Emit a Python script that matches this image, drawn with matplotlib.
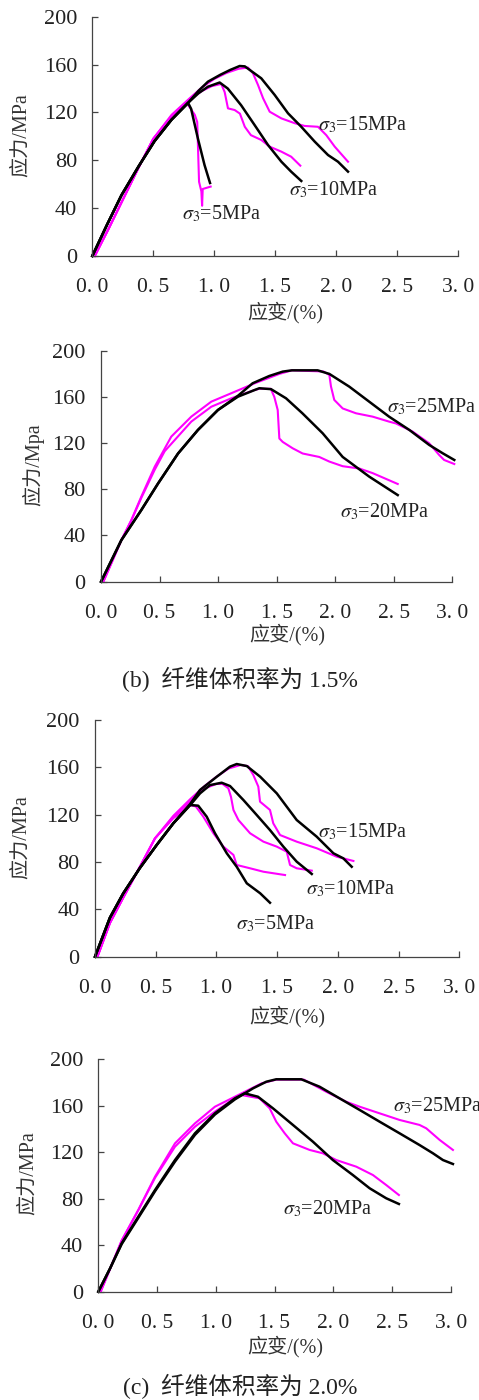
import matplotlib
matplotlib.use("Agg")
import matplotlib.pyplot as plt

plt.rcParams['font.family'] = ['Liberation Serif', 'Noto Sans CJK SC', 'DejaVu Sans']
plt.rcParams['mathtext.fontset'] = 'stix'

# ---------------- data ----------------
x_ticks = [0.0, 0.5, 1.0, 1.5, 2.0, 2.5, 3.0]
x_tick_labels = ["0. 0", "0. 5", "1. 0", "1. 5", "2. 0", "2. 5", "3. 0"]
y_ticks = [0, 40, 80, 120, 160, 200]

# panel 1
p1_k5_x = [0, 0.12, 0.24, 0.38, 0.51, 0.65, 0.785, 0.81, 0.866, 0.92, 0.965]
p1_k5_y = [0, 26, 51, 75, 96, 114, 128, 123, 98, 76, 61]
p1_m5_x = [0.02, 0.13, 0.25, 0.38, 0.5, 0.65, 0.78, 0.84, 0.86, 0.875, 0.894, 0.9, 0.905, 0.97]
p1_m5_y = [0, 22, 47, 74, 98, 117, 127, 118, 112, 62, 54, 42, 56, 58]
p1_k10_x = [0, 0.12, 0.24, 0.38, 0.51, 0.65, 0.785, 0.87, 0.948, 1.044, 1.11, 1.22, 1.33, 1.44, 1.55, 1.63, 1.713]
p1_k10_y = [0, 26, 51, 75, 96, 114, 128, 136, 141.5, 145, 140, 126, 109.5, 92.8, 78.8, 70.5, 62.7]
p1_m10_x = [0.02, 0.13, 0.25, 0.38, 0.5, 0.65, 0.8, 0.9, 0.98, 1.057, 1.085, 1.112, 1.167, 1.21, 1.25, 1.30, 1.385, 1.454, 1.55, 1.63, 1.705]
p1_m10_y = [0, 22, 47, 74, 98, 117, 131, 138, 142, 143.8, 137, 123.4, 122, 119, 108, 101, 97, 91.4, 87.2, 83, 75.5]
p1_k15_x = [0, 0.12, 0.24, 0.38, 0.51, 0.65, 0.785, 0.87, 0.948, 1.05, 1.13, 1.208, 1.25, 1.385, 1.495, 1.604, 1.713, 1.823, 1.932, 2.014, 2.096]
p1_k15_y = [0, 26, 51, 75, 96, 114, 128, 138, 145.7, 151.5, 155.5, 158.8, 158.5, 148.5, 134.6, 119.3, 108, 95.6, 84.4, 78.8, 70.5]
p1_m15_x = [0.02, 0.13, 0.25, 0.38, 0.5, 0.65, 0.8, 0.9, 1.0, 1.1, 1.2, 1.276, 1.317, 1.358, 1.4, 1.454, 1.55, 1.659, 1.74, 1.85, 1.918, 1.987, 2.096]
p1_m15_y = [0, 22, 47, 74, 98, 118, 132, 141, 148, 153, 156.5, 157.5, 152.7, 143, 131.8, 120.6, 115, 111, 108.7, 108, 101, 91.4, 78.8]

# panel 2 (fiber 1.5%)
p2_k20_x = [0, 0.174, 0.344, 0.487, 0.658, 0.828, 0.999, 1.17, 1.313, 1.352, 1.452, 1.58, 1.72, 1.893, 2.064, 2.29, 2.534]
p2_k20_y = [0, 36, 62, 85, 111, 131.4, 148.7, 160.2, 166, 167.5, 166.7, 158.8, 145.8, 128.5, 108, 91, 75]
p2_k25_x = [0, 0.174, 0.344, 0.487, 0.658, 0.828, 0.999, 1.17, 1.295, 1.437, 1.552, 1.63, 1.85, 1.95, 2.12, 2.29, 2.46, 2.633, 2.803, 2.918, 3.017]
p2_k25_y = [0, 36, 62, 85, 111, 131.4, 148.7, 161, 171.8, 178.1, 181.9, 183, 183, 179.9, 168.9, 155.9, 142.9, 131.4, 118.4, 111.2, 105.4]
p2_m20_x = [0.02, 0.174, 0.259, 0.344, 0.459, 0.544, 0.771, 0.942, 1.113, 1.313, 1.35, 1.45, 1.48, 1.509, 1.523, 1.552, 1.637, 1.722, 1.864, 1.95, 2.064, 2.206, 2.32, 2.534]
p2_m20_y = [0, 36, 53, 72.5, 97, 113, 138.6, 151.5, 158.8, 166, 167, 167, 160, 148.7, 124, 121, 115.5, 111, 108, 104, 100, 98, 94, 84.6]
p2_m25_x = [0.02, 0.174, 0.259, 0.344, 0.459, 0.6, 0.771, 0.942, 1.113, 1.313, 1.523, 1.63, 1.9, 1.95, 1.964, 1.992, 2.064, 2.178, 2.32, 2.46, 2.519, 2.662, 2.803, 2.888, 2.93, 3.017]
p2_m25_y = [0, 36, 53.4, 73.6, 99.6, 125.6, 142.9, 155.9, 163.2, 171.8, 179.9, 183, 182, 179, 169, 157.4, 150, 145.8, 142.9, 138.6, 137, 129.9, 119.8, 109.7, 105.4, 101.9]

# panel 3
p3_k5_x = [0, 0.123, 0.233, 0.37, 0.508, 0.645, 0.783, 0.85, 0.92, 0.988, 1.085, 1.167, 1.25, 1.36, 1.441]
p3_k5_y = [0, 33, 53.6, 75, 94.4, 112.7, 128.2, 127.6, 118.3, 104.3, 87.4, 76, 62, 53.6, 45.6]
p3_m5_x = [0.02, 0.123, 0.233, 0.37, 0.494, 0.645, 0.783, 0.83, 0.892, 0.975, 1.057, 1.14, 1.167, 1.277, 1.387, 1.565]
p3_m5_y = [0, 28.5, 50, 76, 100, 117, 128, 127, 118.3, 104.3, 93, 86, 77.5, 74.7, 71.8, 69]
p3_k10_x = [0, 0.123, 0.233, 0.37, 0.508, 0.645, 0.783, 0.865, 0.947, 1.043, 1.112, 1.222, 1.332, 1.441, 1.551, 1.661, 1.785]
p3_k10_y = [0, 33, 53.6, 75, 94.4, 112.7, 128, 138, 145, 147, 144.2, 132.4, 119.7, 107, 93, 80.3, 69.9]
p3_m10_x = [0.02, 0.123, 0.233, 0.37, 0.494, 0.645, 0.783, 0.9, 1.0, 1.05, 1.098, 1.12, 1.14, 1.181, 1.277, 1.387, 1.497, 1.579, 1.606, 1.661, 1.785]
p3_m10_y = [0, 28.5, 50, 76, 100, 118, 131, 142, 146, 146, 142.3, 135, 124, 115.5, 104.3, 97.2, 93, 88.7, 77.5, 74.7, 72.7]
p3_k15_x = [0, 0.123, 0.233, 0.37, 0.508, 0.645, 0.783, 0.865, 1.002, 1.112, 1.167, 1.25, 1.36, 1.497, 1.661, 1.826, 1.963, 2.045, 2.114]
p3_k15_y = [0, 33, 53.6, 75, 94.4, 112.7, 129, 140.9, 152, 160.6, 162.8, 161.1, 152.1, 138, 115.5, 101.4, 87.4, 83.1, 76]
p3_m15_x = [0.02, 0.123, 0.233, 0.37, 0.494, 0.645, 0.783, 0.9, 1.0, 1.1, 1.2, 1.26, 1.304, 1.345, 1.359, 1.441, 1.468, 1.524, 1.661, 1.826, 1.99, 2.128]
p3_m15_y = [0, 28.5, 50, 76, 100, 119, 133, 144, 152, 159, 162, 161, 153.5, 143.7, 131, 124, 112.7, 102.8, 97.2, 91.6, 84.5, 80.9]

# panel 4 (fiber 2.0%)
p4_k20_x = [0, 0.1, 0.199, 0.34, 0.483, 0.653, 0.823, 0.993, 1.163, 1.246, 1.359, 1.487, 1.657, 1.827, 1.997, 2.167, 2.31, 2.451, 2.559]
p4_k20_y = [0, 20, 41.6, 64.5, 87.5, 113.3, 136.3, 153.5, 166.4, 170.7, 167.8, 157.8, 143.5, 129.1, 113.3, 100.4, 89, 80.4, 75.5]
p4_k25_x = [0, 0.1, 0.199, 0.34, 0.483, 0.653, 0.823, 0.993, 1.163, 1.317, 1.43, 1.515, 1.728, 1.884, 2.054, 2.225, 2.395, 2.565, 2.735, 2.849, 2.934, 3.019]
p4_k25_y = [0, 20, 41, 63.5, 86.5, 112, 135, 152.5, 165.5, 175, 180.7, 182.8, 182.8, 176.4, 166.4, 156.4, 146.3, 136.3, 126.2, 119.1, 113.3, 109.9]
p4_m20_x = [0.02, 0.199, 0.34, 0.483, 0.653, 0.823, 0.993, 1.163, 1.217, 1.373, 1.459, 1.515, 1.587, 1.657, 1.799, 1.912, 2.026, 2.196, 2.338, 2.451, 2.559]
p4_m20_y = [0, 44, 70, 98, 124.8, 142, 155, 166.4, 169.3, 166.4, 157.8, 146.3, 136.3, 127.7, 122, 119.1, 113.3, 107.6, 100.4, 91.8, 83.2]
p4_m25_x = [0.02, 0.199, 0.34, 0.483, 0.653, 0.823, 0.993, 1.163, 1.39, 1.515, 1.75, 1.94, 2.11, 2.225, 2.395, 2.565, 2.735, 2.792, 2.906, 3.019]
p4_m25_y = [0, 44, 70.3, 99, 127.7, 144.9, 159.2, 167.8, 179.3, 182.5, 182.5, 172.1, 163.5, 159.2, 153.5, 147.8, 143.5, 140.6, 130.6, 122]

ylabel_texts = ["应力/MPa", "应力/Mpa", "应力/MPa", "应力/MPa"]
xlabel_text = "应变/(%)"
captions = ["(b)  纤维体积率为 1.5%", "(c)  纤维体积率为 2.0%"]

# ---------------- figure ----------------
W, H = 479, 1400
fig = plt.figure(figsize=(W / 100, H / 100), dpi=100)

def rect(l, r, t, b):
    return [l / W, 1 - b / H, (r - l) / W, (b - t) / H]

axes_px = [(92.3, 458.3, 16.7, 256.0),
           (101.0, 452.3, 350.7, 581.7),
           (95.0, 459.3, 720.0, 956.7),
           (98.3, 450.7, 1059.3, 1291.7)]

BLACK = "#000000"
MAG = "#ff00ff"
TXT = "#222222"

panels = [
    [(p1_m5_x, p1_m5_y, MAG), (p1_m10_x, p1_m10_y, MAG), (p1_m15_x, p1_m15_y, MAG),
     (p1_k5_x, p1_k5_y, BLACK), (p1_k10_x, p1_k10_y, BLACK), (p1_k15_x, p1_k15_y, BLACK)],
    [(p2_m20_x, p2_m20_y, MAG), (p2_m25_x, p2_m25_y, MAG),
     (p2_k20_x, p2_k20_y, BLACK), (p2_k25_x, p2_k25_y, BLACK)],
    [(p3_m5_x, p3_m5_y, MAG), (p3_m10_x, p3_m10_y, MAG), (p3_m15_x, p3_m15_y, MAG),
     (p3_k5_x, p3_k5_y, BLACK), (p3_k10_x, p3_k10_y, BLACK), (p3_k15_x, p3_k15_y, BLACK)],
    [(p4_m20_x, p4_m20_y, MAG), (p4_m25_x, p4_m25_y, MAG),
     (p4_k20_x, p4_k20_y, BLACK), (p4_k25_x, p4_k25_y, BLACK)],
]

labels = [
    [(1.85, 109.5, r"$\sigma_3$=15MPa"), (1.61, 55, r"$\sigma_3$=10MPa"), (0.735, 35, r"$\sigma_3$=5MPa")],
    [(2.44, 151, r"$\sigma_3$=25MPa"), (2.04, 60.6, r"$\sigma_3$=20MPa")],
    [(1.837, 105.6, r"$\sigma_3$=15MPa"), (1.738, 57.2, r"$\sigma_3$=10MPa"), (1.161, 27.6, r"$\sigma_3$=5MPa")],
    [(2.505, 160, r"$\sigma_3$=25MPa"), (1.569, 71.2, r"$\sigma_3$=20MPa")],
]

ylabel_pos = [(21.7, 135), (33, 465), (21.7, 837.5), (28.3, 1173)]
xlabel_pos = [(285, 313), (287.5, 635), (287.5, 1016.7), (285, 1346.7)]
caption_pos = [(240, 679), (240.5, 1386.7)]

for i, (l, r, t, b) in enumerate(axes_px):
    ax = fig.add_axes(rect(l, r, t, b))
    for xs, ys, c in panels[i]:
        ax.plot(xs, ys, color=c, lw=1.8 if c == BLACK else 1.5, clip_on=False)
    ax.set_xlim(0, 3.0)
    ax.set_ylim(0, 200)
    ax.set_xticks(x_ticks)
    ax.set_xticklabels(x_tick_labels)
    ax.set_yticks(y_ticks)
    for s in ("top", "right"):
        ax.spines[s].set_visible(False)
    for s in ("left", "bottom"):
        ax.spines[s].set_color("#444444")
        ax.spines[s].set_linewidth(0.9)
    ax.tick_params(axis="x", direction="in", length=4, width=0.9, color="#444444",
                   pad=16, labelsize=15.5, labelcolor=TXT)
    ax.tick_params(axis="y", direction="in", length=4, width=0.9, color="#444444",
                   pad=11, labelsize=16, labelcolor=TXT)
    for (tx, ty, s) in labels[i]:
        ax.text(tx, ty, s, fontsize=14.5, color=TXT, ha="left", va="center")
    fig.text(ylabel_pos[i][0] / W, 1 - ylabel_pos[i][1] / H, ylabel_texts[i],
             rotation=90, ha="center", va="center", fontsize=14.5, color="#333333")
    fig.text(xlabel_pos[i][0] / W, 1 - xlabel_pos[i][1] / H, xlabel_text,
             ha="center", va="center", fontsize=14.5, color="#333333")

for (cx, cy), cap in zip(caption_pos, captions):
    fig.text(cx / W, 1 - cy / H, cap, ha="center", va="center", fontsize=17, color=TXT)

fig.savefig("out.png", dpi=100)
